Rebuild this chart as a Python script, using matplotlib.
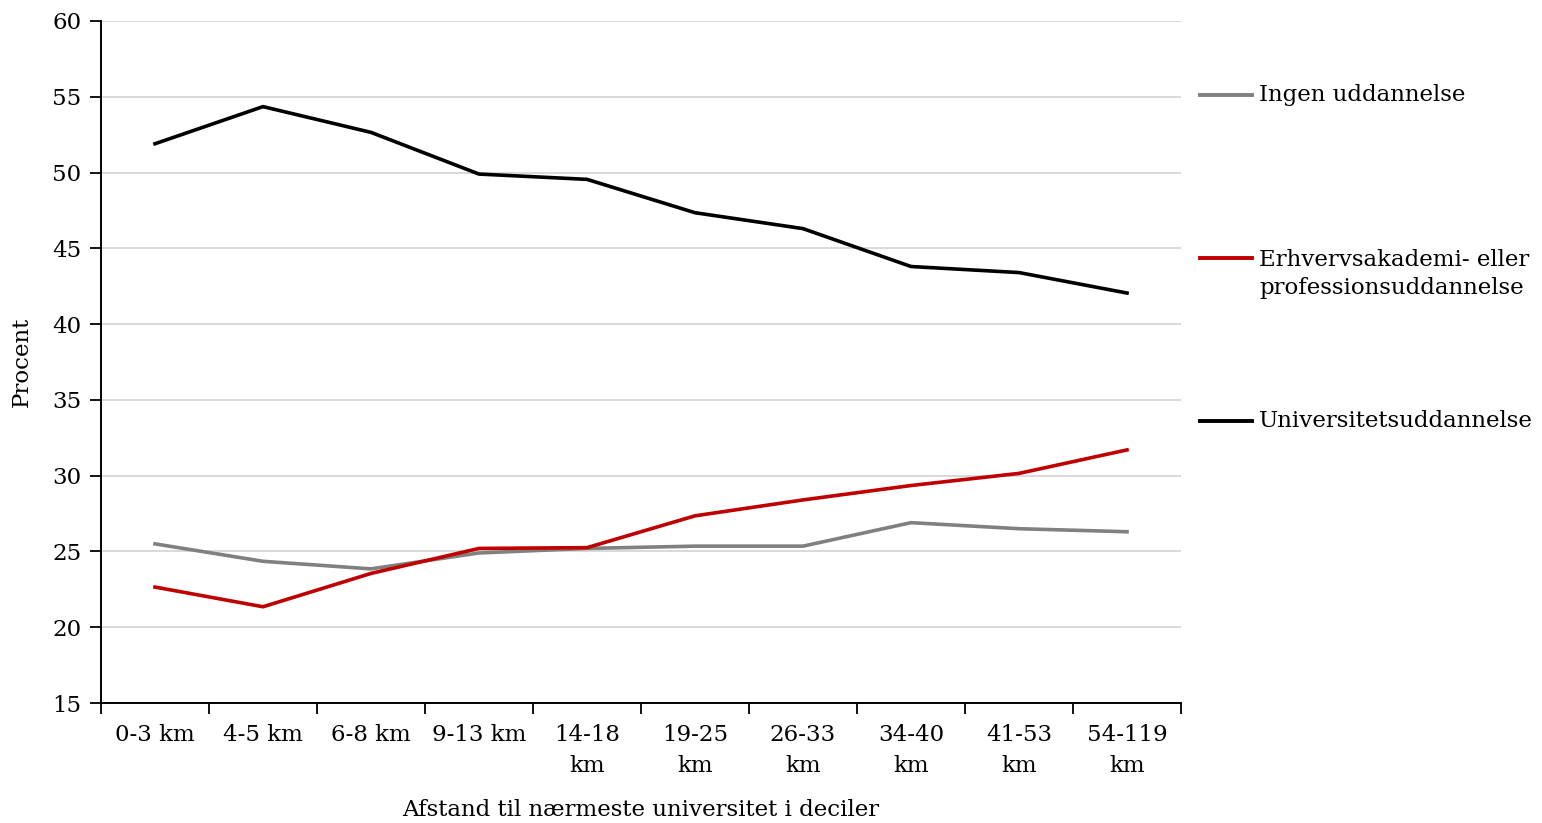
import matplotlib.pyplot as plt
from matplotlib.lines import Line2D

plt.rcParams['font.family'] = ['DejaVu Serif']

afstand = ["0-3 km", "4-5 km", "6-8 km", "9-13 km", "14-18\nkm", "19-25\nkm",
           "26-33\nkm", "34-40\nkm", "41-53\nkm", "54-119\nkm"]
ingen = [25.5, 24.35, 23.85, 24.9, 25.2, 25.35, 25.35, 26.9, 26.5, 26.3]
erhverv = [22.65, 21.35, 23.55, 25.2, 25.25, 27.35, 28.4, 29.35, 30.15, 31.7]
universitet = [51.9, 54.35, 52.65, 49.9, 49.55, 47.35, 46.3, 43.8, 43.4, 42.05]

series = [
    ("Ingen uddannelse", ingen, "#808080"),
    ("Erhvervsakademi- eller\nprofessionsuddannelse", erhverv, "#c00000"),
    ("Universitetsuddannelse", universitet, "#000000"),
]

fs = 16.5

fig = plt.figure(figsize=(15.42, 8.23), dpi=100)
ax = fig.add_axes([0.0655, 0.1458, 0.7004, 0.8287])

x = [i + 0.5 for i in range(len(afstand))]
for navn, vals, farve in series:
    ax.plot(x, vals, color=farve, lw=2.6, solid_joinstyle="round")

ax.set_xlim(0, len(afstand))
ax.set_ylim(15, 60)
ax.set_yticks(range(15, 61, 5))
ax.set_xticks(x)
ax.set_xticklabels(afstand, fontsize=fs, linespacing=1.55)
ax.set_xticks(range(len(afstand) + 1), minor=True)
ax.tick_params(axis="x", which="major", length=0, pad=15)
ax.tick_params(axis="x", which="minor", length=8, width=1.3, direction="out")
ax.tick_params(axis="y", length=8, width=1.3, labelsize=fs, pad=6)

ax.grid(axis="y", color="#d9d9d9", lw=1.4)
ax.set_axisbelow(True)
for s in ["top", "right"]:
    ax.spines[s].set_visible(False)
for s in ["left", "bottom"]:
    ax.spines[s].set_linewidth(1.4)

ax.set_xlabel("Afstand til nærmeste universitet i deciler", fontsize=fs, labelpad=16)
ax.set_ylabel("Procent", fontsize=fs, labelpad=14)

# legend drawn by hand, to the right of the plot
ypos = [1 - 95 / 823, 1 - 274 / 823, 1 - 421 / 823]
for (navn, vals, farve), yy in zip(series, ypos):
    fig.text(1259 / 1542, yy, navn, fontsize=fs, va="center", ha="left", linespacing=1.3)
    ly = yy if "\n" not in navn else 1 - 258 / 823
    fig.add_artist(Line2D([1200 / 1542, 1252 / 1542], [ly, ly], color=farve, lw=2.8,
                          transform=fig.transFigure))

fig.savefig("out.png", dpi=100)
